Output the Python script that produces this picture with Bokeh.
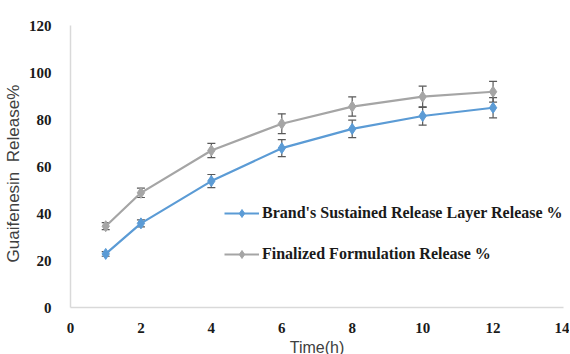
from bokeh.plotting import figure
from bokeh.models import ColumnDataSource, Whisker, TeeHead, Legend, LegendItem, FixedTicker, Range1d
from bokeh.embed import file_html
from bokeh.resources import INLINE

time_h = [1, 2, 4, 6, 8, 10, 12]
brand_release = [22.8, 35.8, 53.8, 67.8, 76.0, 81.5, 85.0]
brand_err = [1.0, 1.5, 2.8, 3.6, 3.7, 3.9, 4.3]
final_release = [34.6, 48.8, 66.8, 78.2, 85.5, 89.7, 91.8]
final_err = [1.5, 2.0, 3.0, 4.2, 4.1, 4.5, 4.4]
series_names = ["Brand's Sustained Release Layer Release %", "Finalized Formulation Release %"]
x_ticks = [0, 2, 4, 6, 8, 10, 12, 14]
y_ticks = [0, 20, 40, 60, 80, 100, 120]

p = figure(frame_width=493, frame_height=282, output_backend="svg", toolbar_location=None,
           x_range=Range1d(0, 14), y_range=Range1d(0, 120),
           min_border_left=66, min_border_right=6, min_border_top=25, min_border_bottom=10)
p.outline_line_color = None
p.xgrid.grid_line_color = None
p.ygrid.grid_line_color = None
p.background_fill_color = "white"
p.border_fill_color = "white"

blue = "#5B9BD5"
gray = "#A5A5A5"

renderers = []
for ys, errs, col in [(brand_release, brand_err, blue), (final_release, final_err, gray)]:
    src = ColumnDataSource(dict(x=time_h, y=ys,
                                lo=[a - b for a, b in zip(ys, errs)],
                                hi=[a + b for a, b in zip(ys, errs)]))
    ln = p.line("x", "y", source=src, line_color=col, line_width=2.2)
    mk = p.scatter("x", "y", source=src, marker="diamond", size=11,
                   fill_color=col, line_color=col)
    w = Whisker(source=src, base="x", upper="hi", lower="lo",
                line_color="#595959", line_width=1.2,
                upper_head=TeeHead(size=8, line_color="#595959", line_width=1.2),
                lower_head=TeeHead(size=8, line_color="#595959", line_width=1.2))
    p.add_layout(w)
    renderers.append((ln, mk))

legend = Legend(items=[LegendItem(label=series_names[i], renderers=list(renderers[i])) for i in range(2)],
                location=(154, 43), orientation="vertical",
                border_line_color=None, background_fill_alpha=0,
                padding=0, margin=0, spacing=21,
                glyph_width=35, glyph_height=20, label_height=20, label_standoff=3,
                label_text_font="Liberation Serif", label_text_font_style="bold",
                label_text_font_size="16px", label_text_color="#1a1a1a")
p.add_layout(legend, "center")

for ax in (p.xaxis[0], p.yaxis[0]):
    ax.axis_line_color = "#d9d9d9"
    ax.axis_line_width = 1.5
    ax.major_tick_line_color = None
    ax.minor_tick_line_color = None
    ax.major_label_text_font = "Liberation Serif"
    ax.major_label_text_font_style = "bold"
    ax.major_label_text_font_size = "15px"
    ax.major_label_text_color = "#1a1a1a"
    ax.axis_label_text_font = "Liberation Sans"
    ax.axis_label_text_font_style = "normal"
    ax.axis_label_text_color = "#404040"

p.xaxis.axis_label_text_font_size = "16px"
p.yaxis.axis_label_text_font_size = "17px"
p.xaxis.ticker = FixedTicker(ticks=x_ticks)
p.yaxis.ticker = FixedTicker(ticks=y_ticks)
p.xaxis.major_label_standoff = 9
p.yaxis.major_label_standoff = 13
p.xaxis.axis_label = "Time(h)"
p.yaxis.axis_label = "Guaifenesin\u00a0\u00a0Release%\u00a0\u00a0\u00a0"
p.xaxis.axis_label_standoff = 3
p.yaxis.axis_label_standoff = 3

open("out.html", "w").write(file_html(p, INLINE))
